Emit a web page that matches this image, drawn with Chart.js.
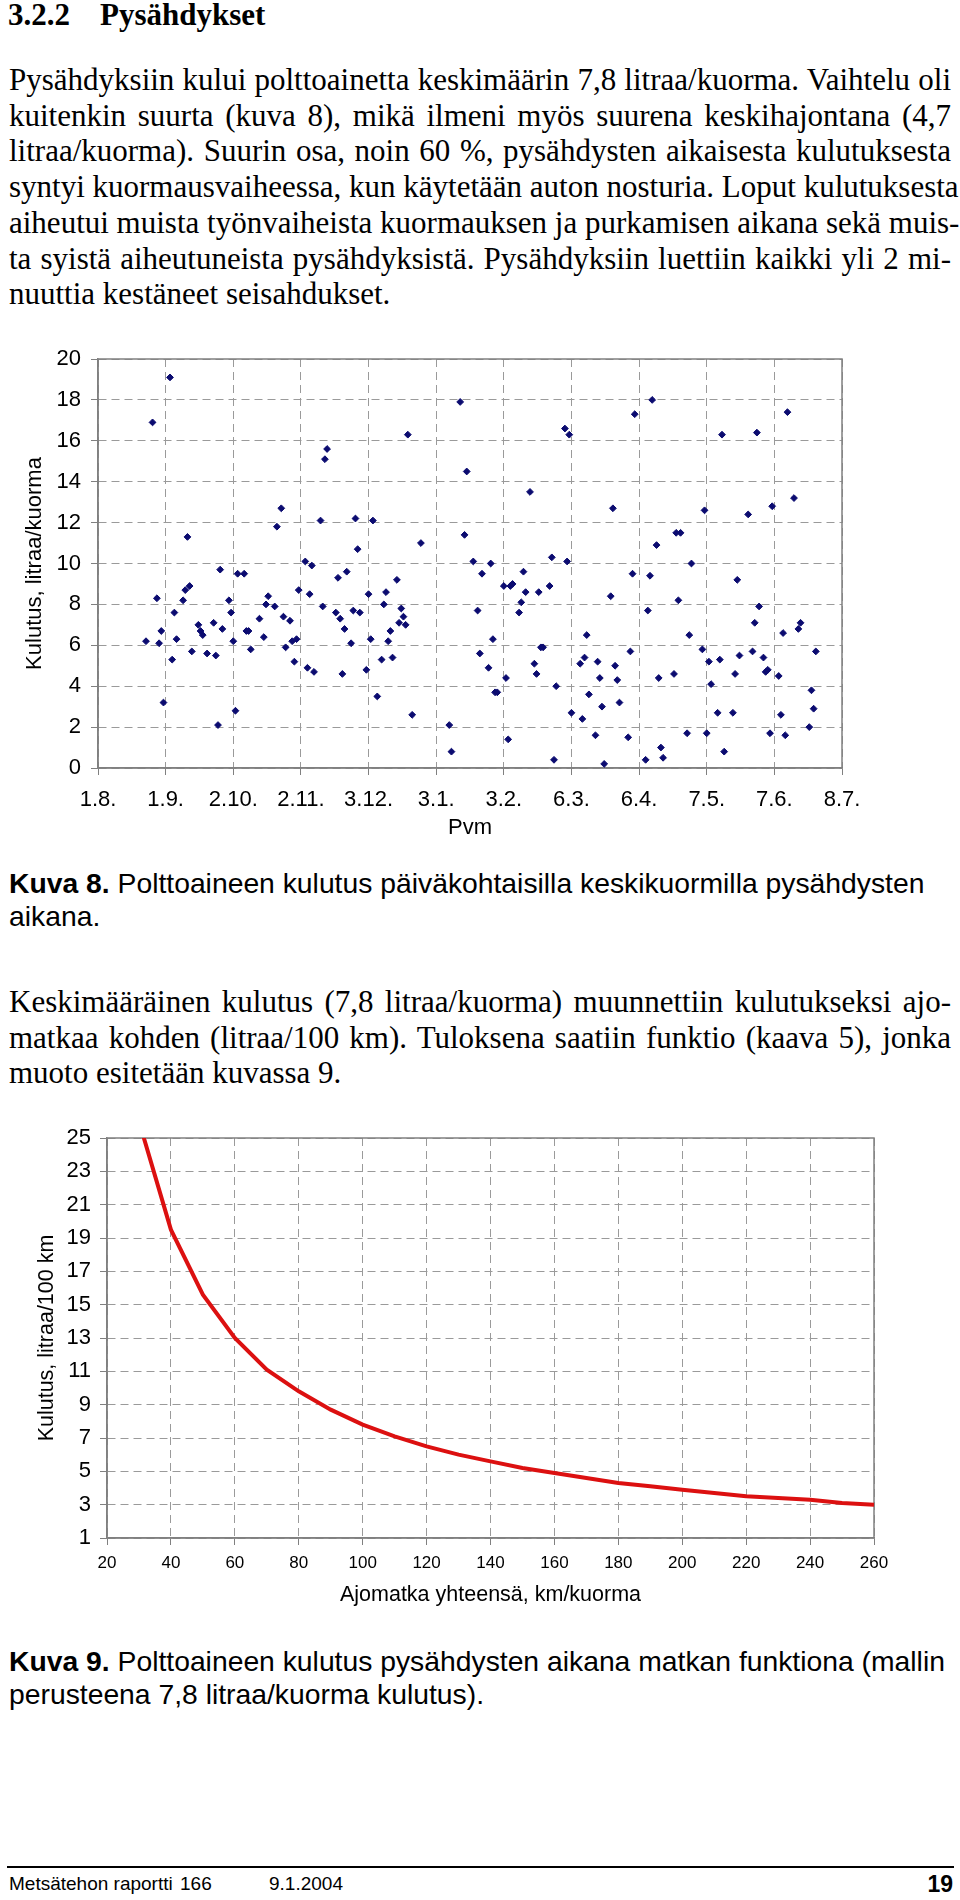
<!DOCTYPE html>
<html lang="fi">
<head>
<meta charset="utf-8">
<title>Pysähdykset</title>
<script src="https://cdn.jsdelivr.net/npm/chart.js@4.4.1/dist/chart.umd.min.js"></script>
<style>
  html, body { margin: 0; padding: 0; background: #fff; }
  #page { position: relative; width: 960px; height: 1900px; overflow: hidden; color: #000; }
  .h { position: absolute; font: bold 31px/31px "Liberation Serif", "Times New Roman", serif; white-space: nowrap; }
  .txt { position: absolute; left: 9px; width: 942px; font: 31px/35.7px "Liberation Serif", "Times New Roman", serif; }
  .txt div { white-space: nowrap; }
  .j { text-align: justify; text-align-last: justify; }
  .cap { position: absolute; left: 9px; font: 28.3px/32.5px "Liberation Sans", Arial, sans-serif; white-space: nowrap; }
  .foot { position: absolute; top: 1872px; font: 19px/24px "Liberation Sans", Arial, sans-serif; white-space: nowrap; }
  canvas { position: absolute; left: 0; }
</style>
</head>
<body>
<div id="page">
  <div class="h" style="top:-1px;left:8px">3.2.2</div>
  <div class="h" style="top:-1px;left:100px">Pysähdykset</div>

  <div class="txt" style="top:62px">
    <div class="j">Pysähdyksiin kului polttoainetta keskimäärin 7,8 litraa/kuorma. Vaihtelu oli</div>
    <div class="j">kuitenkin suurta (kuva 8), mikä ilmeni myös suurena keskihajontana (4,7</div>
    <div class="j">litraa/kuorma). Suurin osa, noin 60 %, pysähdysten aikaisesta kulutuksesta</div>
    <div class="j">syntyi kuormausvaiheessa, kun käytetään auton nosturia. Loput kulutuksesta</div>
    <div class="j">aiheutui muista työnvaiheista kuormauksen ja purkamisen aikana sekä muis-</div>
    <div class="j">ta syistä aiheutuneista pysähdyksistä. Pysähdyksiin luettiin kaikki yli 2 mi-</div>
    <div>nuuttia kestäneet seisahdukset.</div>
  </div>

  <canvas id="stopChart" width="900" height="520" style="top:330px"></canvas>

  <div class="cap" style="top:867px"><b>Kuva 8.</b> Polttoaineen kulutus päiväkohtaisilla keskikuormilla pysähdysten<br>aikana.</div>

  <div class="txt" style="top:984px">
    <div class="j">Keskimääräinen kulutus (7,8 litraa/kuorma) muunnettiin kulutukseksi ajo-</div>
    <div class="j">matkaa kohden (litraa/100 km). Tuloksena saatiin funktio (kaava 5), jonka</div>
    <div>muoto esitetään kuvassa 9.</div>
  </div>

  <canvas id="distChart" width="940" height="520" style="top:1100px"></canvas>

  <div class="cap" style="top:1645px"><b>Kuva 9.</b> Polttoaineen kulutus pysähdysten aikana matkan funktiona (mallin<br>perusteena 7,8 litraa/kuorma kulutus).</div>

  <div style="position:absolute;left:7px;top:1866px;width:947px;height:2px;background:#000"></div>
  <div class="foot" style="left:9px">Metsätehon raportti</div>
  <div class="foot" style="left:180px">166</div>
  <div class="foot" style="left:269px">9.1.2004</div>
  <div class="foot" style="right:7px;font-weight:bold;font-size:23px">19</div>
</div>

<script>
// x axis of kuva 8 is a date axis, one tick every 31 days starting 1.8.
const dateTicks = ["1.8.", "1.9.", "2.10.", "2.11.", "3.12.", "3.1.", "3.2.", "6.3.", "6.4.", "7.5.", "7.6.", "8.7."];

// days counted from 1.8.
const stopDays = [
  22, 25, 27, 28, 29, 30, 33, 34, 35, 36, 39, 40, 41, 42, 43, 46, 47, 48, 50, 53,
  54, 55, 56, 57, 60, 61, 62, 63, 64, 67, 68, 69, 70, 74, 76, 77, 78, 81, 82, 84,
  85, 86, 88, 89, 90, 91, 92, 95, 96, 97, 98, 99, 102, 103, 104, 105, 109, 110, 111, 112,
  113, 114, 116, 117, 118, 119, 120, 123, 124, 125, 126, 128, 130, 131, 132, 133, 134, 135, 137, 138,
  139, 140, 141, 142, 144, 148,
  161, 162, 166, 168, 169, 172, 174, 175, 176, 179, 180, 181, 182, 183, 186, 187, 188, 189, 190, 193,
  194, 195, 196, 198, 200, 201, 202, 203, 204, 207, 208, 209, 210, 214, 215, 216, 217, 221, 222, 223,
  224, 225, 228, 229, 230, 231, 232, 235, 236, 237, 238, 239, 243, 244, 245, 246, 251, 252, 253, 254,
  256, 257, 258, 259, 264, 265, 266, 267, 270, 271, 272, 277, 278, 279, 280, 281, 284, 285, 286, 287,
  291, 292, 293, 294, 298, 300, 301, 302, 303, 305, 306, 307, 308, 309, 312, 313, 314, 315, 316, 319,
  321, 322, 326, 327, 328, 329
];

// litraa/kuorma
const stopFuel = [
  6.2, 16.9, 8.3, 6.1, 6.7, 3.2, 19.1, 5.3, 7.6, 6.3, 8.2, 8.7, 11.3, 8.9, 5.7, 7.0, 6.7, 6.5, 5.6, 7.1,
  5.5, 2.1, 9.7, 6.8, 8.2, 7.6, 6.2, 2.8, 9.5, 9.5, 6.7, 6.7, 5.8, 7.3, 6.4, 8.0, 8.4, 7.9, 11.8, 12.7,
  7.4, 5.9, 7.2, 6.2, 5.2, 6.3, 8.7, 10.1, 4.9, 8.5, 9.9, 4.7, 12.1, 7.9, 15.1, 15.6, 7.6, 9.3, 7.3, 4.6,
  6.8, 9.6, 6.1, 7.7, 12.2, 10.7, 7.6, 4.8, 8.5, 6.3, 12.1, 3.5, 5.3, 8.0, 8.6, 6.2, 6.7, 5.4, 9.2, 7.1,
  7.8, 7.4, 7.0, 16.3, 2.6, 11.0,
  2.1, 0.8, 17.9, 11.4, 14.5, 10.1, 7.7, 5.6, 9.5, 4.9, 10.0, 6.3, 3.7, 3.7, 8.9, 4.4, 1.4, 8.9, 9.0, 7.6,
  8.1, 9.6, 8.6, 13.5, 5.1, 4.6, 8.6, 5.9, 5.9, 8.9, 10.3, 0.4, 4.0, 16.6, 10.1, 16.3, 2.7, 5.1, 2.4, 5.4,
  6.5, 3.6, 1.6, 5.2, 4.4, 3.0, 0.2, 8.4, 12.7, 5.0, 4.3, 3.2, 1.5, 5.7, 9.5, 17.3, 0.4, 7.7, 9.4, 18.0,
  10.9, 4.4, 1.0, 0.5, 4.6, 11.5, 8.2, 11.5, 1.7, 6.5, 10.0, 5.8, 12.6, 1.7, 5.2, 4.1, 2.7, 5.3, 16.3, 0.8,
  2.7, 4.6, 9.2, 5.5, 12.4, 5.7, 7.1, 16.4, 7.9, 5.4, 4.7, 4.8, 1.7, 12.8, 4.5, 2.6, 6.6, 1.6, 17.4, 13.2,
  6.8, 7.1, 2.0, 3.8, 2.9, 5.7
];

// kuva 9, km/kuorma and litraa/100 km
const distanceKm = [30, 40, 50, 60, 70, 80, 90, 100, 110, 120, 130, 140, 150, 160, 170, 180, 190, 200, 210, 220, 230, 240, 250, 260];
const fuelPer100km = [26.0, 19.5, 15.6, 13.0, 11.1, 9.8, 8.7, 7.8, 7.1, 6.5, 6.0, 5.6, 5.2, 4.9, 4.6, 4.3, 4.1, 3.9, 3.7, 3.5, 3.4, 3.3, 3.1, 3.0];

const sans = "'Liberation Sans', Arial, Helvetica, sans-serif";
const gridGray = "#9a9a9a";
const axisGray = "#808080";

Chart.defaults.font.family = sans;
Chart.defaults.color = "#000";

// solid frame round the plot area (top and right too)
const frame = {
  id: "frame",
  beforeDatasetsDraw(chart) {
    const { ctx, chartArea } = chart;
    ctx.save();
    ctx.strokeStyle = axisGray;
    ctx.lineWidth = 1.5;
    ctx.strokeRect(chartArea.left, chartArea.top, chartArea.width, chartArea.height);
    ctx.restore();
  },
};

const toPoints = (xs, ys) => xs.map((x, i) => ({ x: x, y: ys[i] }));

const renderStopChart = () => {
  new Chart(document.querySelector("#stopChart"), {
    type: "scatter",
    data: {
      datasets: [{
        data: toPoints(stopDays, stopFuel),
        pointStyle: "rectRot",
        pointRadius: 3.4,
        pointHoverRadius: 3.4,
        borderWidth: 1,
        backgroundColor: "#0b0b70",
        borderColor: "#0b0b70",
      }],
    },
    options: {
      responsive: false,
      animation: false,
      events: [],
      layout: { padding: { top: 29, right: 58, bottom: 9, left: 0 } },
      plugins: { legend: { display: false }, tooltip: { enabled: false } },
      scales: {
        x: {
          type: "linear",
          min: 0,
          max: 341,
          afterFit: (scale) => { scale.height = 73; },
          ticks: {
            stepSize: 31,
            autoSkip: false,
            maxRotation: 0,
            padding: 12,
            font: { size: 22 },
            callback: (value) => dateTicks[Math.round(value / 31)],
          },
          grid: { color: gridGray, tickColor: axisGray, tickLength: 7 },
          border: { color: axisGray, width: 1.5, dash: [8, 5] },
          title: { display: true, text: "Pvm", font: { size: 22 }, padding: { top: 0, bottom: 0 } },
        },
        y: {
          min: 0,
          max: 20,
          afterFit: (scale) => { scale.width = 98; },
          ticks: {
            stepSize: 1,
            padding: 10,
            font: { size: 22 },
            callback: (value) => (value % 2 === 0 ? value : ""),
          },
          grid: {
            color: (ctx) => (ctx.tick && ctx.tick.value % 2 !== 0 ? "rgba(0,0,0,0)" : gridGray),
            tickColor: axisGray,
            tickLength: 7,
          },
          border: { color: axisGray, width: 1.5, dash: [8, 5] },
          title: { display: true, text: "Kulutus, litraa/kuorma", font: { size: 22 }, padding: { top: 22, bottom: 0 } },
        },
      },
    },
    plugins: [frame],
  });
};

const renderDistChart = () => {
  new Chart(document.querySelector("#distChart"), {
    type: "scatter",
    data: {
      datasets: [{
        data: toPoints(distanceKm, fuelPer100km),
        showLine: true,
        pointRadius: 0,
        pointHoverRadius: 0,
        borderColor: "#dc1010",
        borderWidth: 4,
        clip: 0,
      }],
    },
    options: {
      responsive: false,
      animation: false,
      events: [],
      layout: { padding: { top: 38, right: 66, bottom: 12, left: 0 } },
      plugins: { legend: { display: false }, tooltip: { enabled: false } },
      scales: {
        x: {
          type: "linear",
          min: 20,
          max: 260,
          afterFit: (scale) => { scale.height = 70; },
          ticks: { stepSize: 20, autoSkip: false, maxRotation: 0, padding: 8, font: { size: 17 } },
          grid: { color: gridGray, tickColor: axisGray, tickLength: 7 },
          border: { color: axisGray, width: 1.5, dash: [8, 5] },
          title: { display: true, text: "Ajomatka yhteensä, km/kuorma", font: { size: 21.5 }, padding: { top: 0, bottom: 0 } },
        },
        y: {
          min: 1,
          max: 25,
          afterFit: (scale) => { scale.width = 107; },
          ticks: { stepSize: 2, padding: 9, font: { size: 22 } },
          grid: { color: gridGray, tickColor: axisGray, tickLength: 7 },
          border: { color: axisGray, width: 1.5, dash: [8, 5] },
          title: { display: true, text: "Kulutus, litraa/100 km", font: { size: 21.5 }, padding: { top: 34, bottom: 0 } },
        },
      },
    },
    plugins: [frame],
  });
};

document.addEventListener("DOMContentLoaded", () => {
  renderStopChart();
  renderDistChart();
});
</script>
</body>
</html>
